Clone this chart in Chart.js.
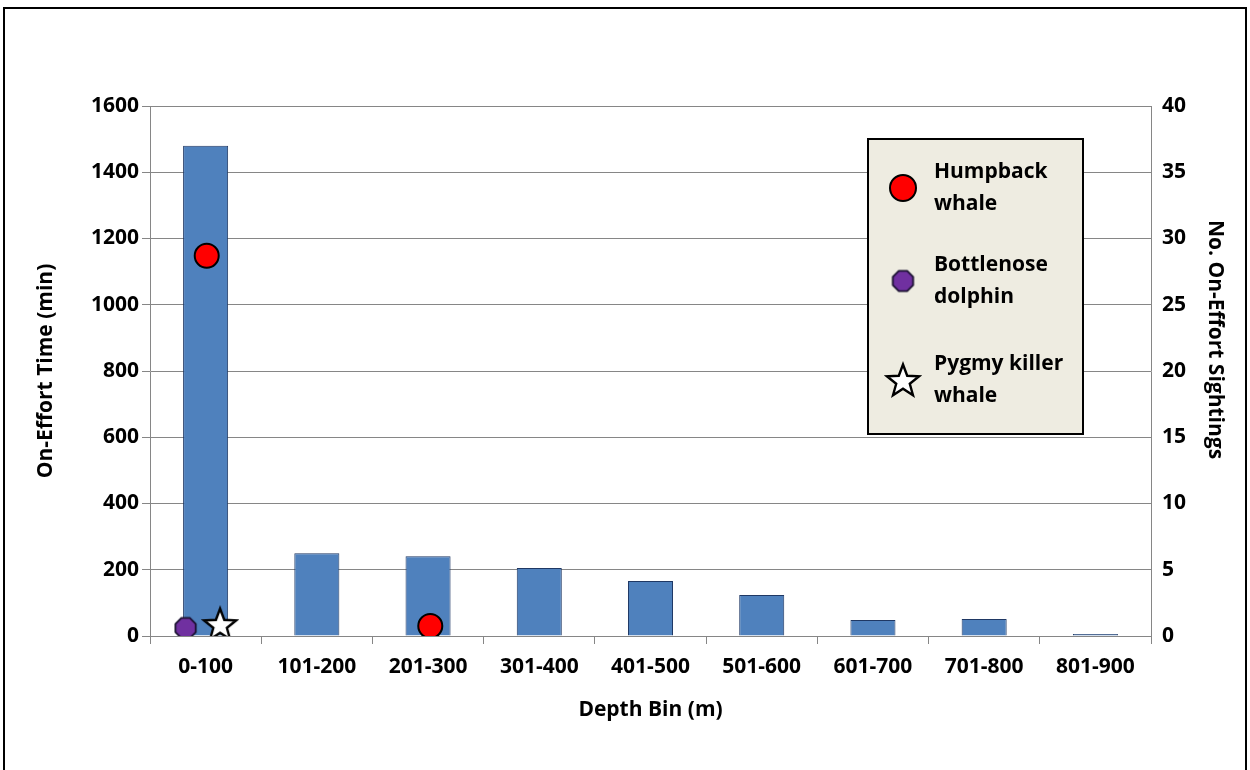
<!DOCTYPE html>
<html>
<head>
<meta charset="utf-8">
<script src="https://cdn.jsdelivr.net/npm/chart.js@4/dist/chart.umd.min.js"></script>
<style>
    html, body { margin: 0; padding: 0; background: #fff; }
    #wrap { position: relative; width: 1250px; height: 770px; overflow: hidden; }
    #frame { position: absolute; left: 3px; top: 7px; width: 1244px; height: 800px; border: 2px solid #000; box-sizing: border-box; }
    #chart { position: absolute; left: 0; top: 0; }
</style>
</head>
<body>
<div id="wrap">
    <div id="frame"></div>
    <canvas id="chart" width="1250" height="770"></canvas>
</div>
<script>
const depthBins = ['0-100', '101-200', '201-300', '301-400', '401-500', '501-600', '601-700', '701-800', '801-900'];
const effortMinutes = [1480, 250, 241, 205, 166, 124, 48, 51, 6];

// sightings: x is the bin index (small offsets as in the original), y is the count
const humpbackSightings = [{ x: 0.01, y: 28.7 }, { x: 2.02, y: 0.75 }];
const bottlenoseSightings = [{ x: -0.18, y: 0.6 }];
const pygmyKillerSightings = [{ x: 0.13, y: 0.9 }];

const leftTicks = [0, 200, 400, 600, 800, 1000, 1200, 1400, 1600];
const rightTicks = [0, 5, 10, 15, 20, 25, 30, 35, 40];

const FONT = "'Open Sans', 'DejaVu Sans', sans-serif";
const GRID = '#868686';

function octagonImage(size, fill, stroke) {
    const c = document.createElement('canvas');
    c.width = size; c.height = size;
    const ctx = c.getContext('2d');
    const r = size / 2 - 1.5;
    ctx.beginPath();
    for (let i = 0; i < 8; i++) {
        const a = Math.PI / 8 + i * Math.PI / 4;
        ctx.lineTo(size / 2 + r * Math.cos(a), size / 2 + r * Math.sin(a));
    }
    ctx.closePath();
    ctx.fillStyle = fill;
    ctx.fill();
    ctx.lineWidth = 1.8;
    ctx.strokeStyle = stroke;
    ctx.stroke();
    return c;
}

function starImage(size, fill, stroke) {
    const c = document.createElement('canvas');
    c.width = size; c.height = size;
    const ctx = c.getContext('2d');
    const outer = size / 2 - 2;
    const inner = outer * 0.42;
    const cx = size / 2, cy = size / 2 + 1.5;
    ctx.beginPath();
    for (let i = 0; i < 10; i++) {
        const r = i % 2 === 0 ? outer : inner;
        const a = -Math.PI / 2 + i * Math.PI / 5;
        ctx.lineTo(cx + r * Math.cos(a), cy + r * Math.sin(a));
    }
    ctx.closePath();
    ctx.fillStyle = fill;
    ctx.fill();
    ctx.lineWidth = 2.4;
    ctx.lineJoin = 'miter';
    ctx.strokeStyle = stroke;
    ctx.stroke();
    return c;
}

const octagon = octagonImage(25, '#7030a0', '#1a1030');
const star = starImage(38, '#ffffff', '#000000');

// legend box drawn inside the plot, like the Excel original
const boxLegend = {
    id: 'boxLegend',
    afterDraw(chart) {
        const ctx = chart.ctx;
        const x = 868, y = 139, w = 215, h = 295;
        ctx.save();
        ctx.fillStyle = '#eeece1';
        ctx.fillRect(x, y, w, h);
        ctx.lineWidth = 2;
        ctx.strokeStyle = '#000';
        ctx.strokeRect(x, y, w, h);

        const entries = [
            { ds: 0, lines: ['Humpback', 'whale'], my: 188 },
            { ds: 1, lines: ['Bottlenose', 'dolphin'], my: 281 },
            { ds: 2, lines: ['Pygmy killer', 'whale'], my: 380 },
        ];
        ctx.font = `bold 21px ${FONT}`;
        ctx.textBaseline = 'middle';
        ctx.textAlign = 'left';
        entries.forEach((e) => {
            const d = chart.data.datasets[e.ds];
            if (d.pointStyle === 'circle') {
                ctx.fillStyle = d.backgroundColor;
                ctx.strokeStyle = d.borderColor;
                ctx.lineWidth = d.borderWidth;
                ctx.beginPath();
                ctx.arc(903, e.my, d.pointRadius + 1, 0, Math.PI * 2);
                ctx.fill();
                ctx.stroke();
            } else {
                Chart.helpers.drawPoint(ctx, {
                    pointStyle: d.pointStyle, radius: d.pointRadius, borderWidth: 0, rotation: 0,
                }, 903, e.my);
            }
            ctx.fillStyle = '#000';
            ctx.fillText(e.lines[0], 934, e.my - 16);
            ctx.fillText(e.lines[1], 934, e.my + 16);
        });
        ctx.restore();
    },
};

const tickFont = { family: FONT, size: 21, weight: 'bold' };

new Chart(document.getElementById('chart'), {
    type: 'bar',
    data: {
        labels: depthBins,
        datasets: [
            {
                type: 'scatter', label: 'Humpback whale', data: humpbackSightings,
                xAxisID: 'x2', yAxisID: 'y2', order: 0,
                pointStyle: 'circle', pointRadius: 12, borderWidth: 2,
                backgroundColor: '#ff0000', borderColor: '#000000',
            },
            {
                type: 'scatter', label: 'Bottlenose dolphin', data: bottlenoseSightings,
                xAxisID: 'x2', yAxisID: 'y2', order: 0,
                pointStyle: octagon, pointRadius: 12, borderWidth: 1,
                backgroundColor: '#7030a0', borderColor: '#000000',
            },
            {
                type: 'scatter', label: 'Pygmy killer whale', data: pygmyKillerSightings,
                xAxisID: 'x2', yAxisID: 'y2', order: 0,
                pointStyle: star, pointRadius: 17, borderWidth: 1,
                backgroundColor: '#ffffff', borderColor: '#000000',
            },
            {
                type: 'bar', label: 'On-Effort Time', data: effortMinutes,
                xAxisID: 'x', yAxisID: 'y', order: 5, grouped: false,
                backgroundColor: '#4f81bd', borderColor: '#1f3864', borderWidth: 1,
                barPercentage: 0.405, categoryPercentage: 1,
            },
        ],
    },
    options: {
        responsive: false,
        animation: false,
        layout: { padding: { left: 29, right: 18, top: 106, bottom: 43 } },
        plugins: { legend: { display: false }, tooltip: { enabled: false } },
        scales: {
            x: {
                type: 'category', position: 'bottom', offset: true,
                grid: { offset: true, drawOnChartArea: false, drawTicks: true, tickLength: 8, color: GRID },
                border: { color: GRID },
                ticks: { font: tickFont, color: '#000', padding: 10, maxRotation: 0 },
                title: { display: true, text: 'Depth Bin (m)', font: tickFont, color: '#000' },
                afterFit: (s) => { s.height = 91; },
            },
            x2: {
                type: 'linear', display: false, min: -0.5, max: 8.5,
                offset: false, grid: { offset: false },
            },
            y: {
                type: 'linear', position: 'left', min: 0, max: 1600,
                afterBuildTicks: (s) => { s.ticks = leftTicks.map((v) => ({ value: v })); },
                grid: { color: GRID, tickLength: 8 },
                border: { color: GRID },
                ticks: { font: tickFont, color: '#000', padding: 3, callback: (v) => String(v) },
                title: { display: true, text: 'On-Effort Time (min)', font: tickFont, color: '#000' },
                afterFit: (s) => { s.width = 121; },
            },
            y2: {
                type: 'linear', position: 'right', min: 0, max: 40,
                afterBuildTicks: (s) => { s.ticks = rightTicks.map((v) => ({ value: v })); },
                grid: { drawOnChartArea: false, drawTicks: false },
                border: { color: GRID },
                ticks: { font: tickFont, color: '#000', padding: 11, callback: (v) => String(v) },
                // trailing en spaces nudge the title up, it sits above centre in the original
                title: { display: true, text: 'No. On-Effort Sightings\u2002\u2002\u2002\u2002\u2002\u2002', font: tickFont, color: '#000' },
                afterFit: (s) => { s.width = 81; },
            },
        },
    },
    plugins: [boxLegend],
});
</script>
</body>
</html>
